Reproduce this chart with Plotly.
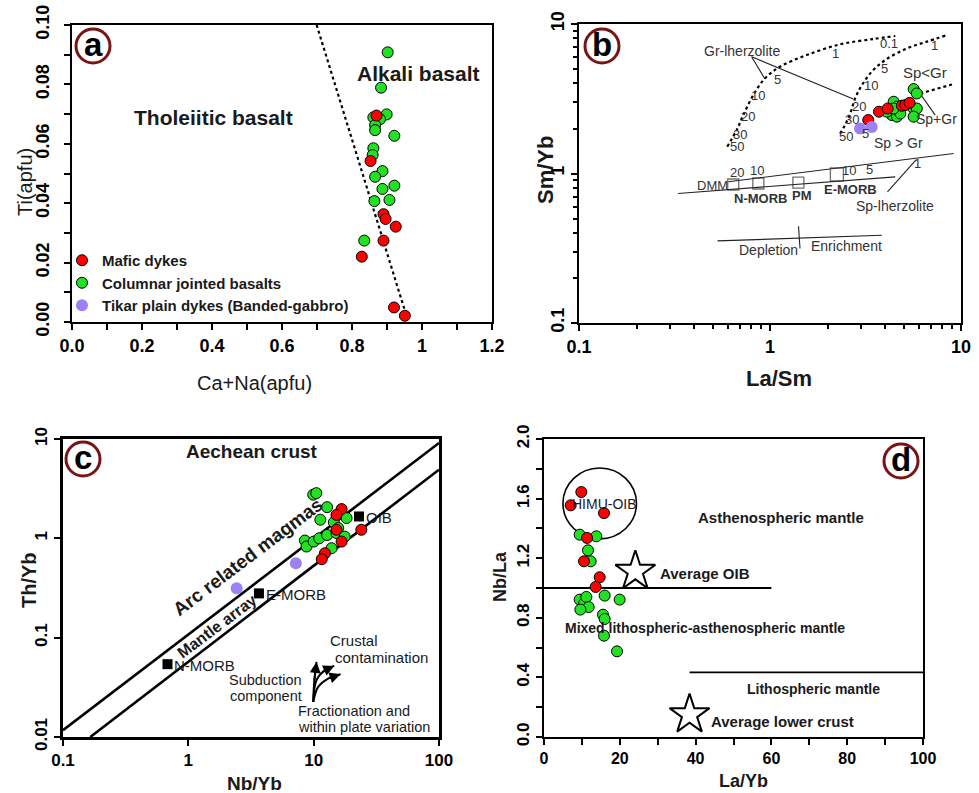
import numpy as np
import plotly.graph_objects as go

W, H = 979, 793
FONT = "Liberation Sans, Arial, sans-serif"
RED = "#ff0000"
GREEN = "#22e022"
PURPLE = "#9d80f2"
TXT = "#1a1a1a"

# ---------------- data: panel a (Ca+Na vs Ti) ----------------
a_mafic_x = [0.870, 0.853, 0.890, 0.896, 0.925, 0.890, 0.828, 0.920, 0.951]
a_mafic_y = [0.0695, 0.0542, 0.0363, 0.0347, 0.0321, 0.0274, 0.0220, 0.0049, 0.0021]
a_col_x = [0.902, 0.883, 0.899, 0.861, 0.880, 0.866, 0.866, 0.921, 0.861,
           0.859, 0.887, 0.866, 0.887, 0.921, 0.864, 0.907, 0.835]
a_col_y = [0.0908, 0.0789, 0.0699, 0.0689, 0.0683, 0.0663, 0.0646, 0.0627, 0.0585,
           0.0562, 0.0508, 0.0489, 0.0448, 0.0459, 0.0407, 0.0411, 0.0274]
a_div_x = [0.699, 0.961]
a_div_y = [0.10, 0.0]
a_xticks = [0.0, 0.1, 0.2, 0.3, 0.4, 0.5, 0.6, 0.7, 0.8, 0.9, 1.0, 1.1, 1.2]
a_xtext = ["0.0", "", "0.2", "", "0.4", "", "0.6", "", "0.8", "", "1", "", "1.2"]
a_yticks = [0.0, 0.01, 0.02, 0.03, 0.04, 0.05, 0.06, 0.07, 0.08, 0.09, 0.10]
a_ytext = ["0.00", "", "0.02", "", "0.04", "", "0.06", "", "0.08", "", "0.10"]

# ---------------- data: panel b (La/Sm vs Sm/Yb) ----------------
b_mafic_x = [3.27, 3.72, 4.13, 4.90, 5.11, 5.38]
b_mafic_y = [2.28, 2.59, 2.72, 2.84, 2.87, 2.97]
b_col_x = [5.65, 5.87, 4.44, 4.62, 4.35, 4.62, 4.81, 5.65, 5.87, 5.65, 4.09, 4.44]
b_col_y = [3.67, 3.43, 3.02, 2.80, 2.46, 2.40, 2.52, 2.72, 2.72, 2.40, 2.59, 2.72]
b_tik_x = [2.96, 3.41]
b_tik_y = [2.00, 2.05]
b_gr_curve_x = [0.597, 0.669, 0.725, 0.818, 0.941, 1.128, 1.557, 2.33, 3.48, 4.53]
b_gr_curve_y = [1.51, 1.95, 2.46, 3.35, 4.33, 5.18, 6.20, 7.31, 7.94, 8.31]
b_mix_curve_x = [2.33, 2.47, 2.63, 2.79, 3.03, 3.41, 4.01, 5.21, 6.63, 8.28]
b_mix_curve_y = [1.85, 2.11, 2.52, 3.18, 3.90, 4.80, 5.74, 6.87, 7.62, 8.36]
b_sp_gr_x = [6.12, 8.97]
b_sp_gr_y = [3.43, 3.94]
b_sp_upper_x = [0.605, 9.15]
b_sp_upper_y = [0.880, 1.361]
b_sp_lower_x = [0.3305, 4.53]
b_sp_lower_y = [0.735, 0.950]
b_ptr_gr_x = [0.941, 0.801, 2.73]
b_ptr_gr_y = [4.29, 6.04, 3.15]
b_ptr_spgr_x = [6.12, 7.33]
b_ptr_spgr_y = [3.41, 2.46]
b_ptr_sp_x = [5.83, 4.12]
b_ptr_sp_y = [1.24, 0.754]
b_dep_x = [0.531, 3.85]
b_dep_y = [0.354, 0.386]
b_dep_tick_x = [1.41, 1.436]
b_dep_tick_y = [0.444, 0.315]
b_src_names = ["DMM", "N-MORB", "PM", "E-MORB"]
b_src_x = [0.642, 0.869, 1.408, 2.24]
b_src_y = [0.844, 0.857, 0.870, 0.985]
b_ticks = [0.1, 1, 10]
b_ticktext = ["0.1", "1", "10"]
b_minor = [0.2, 0.3, 0.4, 0.5, 0.6, 0.7, 0.8, 0.9, 2, 3, 4, 5, 6, 7, 8, 9]
# curve labels (text, x, y)
b_curve_labels = [("50", 0.669, 1.51), ("30", 0.697, 1.81), ("20", 0.764, 2.40),
                  ("10", 0.862, 3.31), ("5", 1.093, 4.28), ("1", 2.19, 6.30),
                  ("0.1", 4.21, 7.42),
                  ("50", 2.50, 1.78), ("30", 2.70, 2.30), ("20", 2.91, 2.80),
                  ("10", 3.37, 3.90), ("5", 3.96, 5.0), ("1", 7.24, 7.23),
                  ("5", 3.18, 1.85),
                  ("20", 0.669, 1.01), ("10", 0.851, 1.04), ("10", 2.60, 1.04),
                  ("5", 3.30, 1.07), ("1", 5.93, 1.17)]

# ---------------- data: panel c (Nb/Yb vs Th/Yb) ----------------
c_mafic_x = [16.7, 15.2, 15.2, 16.7, 12.3, 11.6, 24.0]
c_mafic_y = [1.97, 1.72, 1.22, 0.928, 0.708, 0.616, 1.22]
c_col_x = [9.92, 10.5, 12.8, 11.3, 14.5, 18.3, 15.7, 8.51, 8.77, 10.0, 11.07, 12.8, 15.2, 17.7, 13.9]
c_col_y = [2.75, 2.85, 2.06, 1.54, 1.45, 1.60, 1.27, 0.95, 0.827, 0.928, 1.00, 1.08, 1.13, 1.04, 0.795]
c_tik_x = [2.43, 7.21]
c_tik_y = [0.314, 0.561]
c_upper_x = [0.1, 100]
c_upper_y = [0.0117, 9.12]
c_lower_x = [0.165, 100]
c_lower_y = [0.01, 4.91]
c_ref_names = ["OIB", "E-MORB", "N-MORB"]
c_ref_x = [23.0, 3.66, 0.682]
c_ref_y = [1.66, 0.279, 0.0541]
# curved vector arrows (subduction, crustal contamination, fractionation)
c_arrow_paths = [
    ([9.92, 10.10, 10.54], [0.02255, 0.0359, 0.0571]),
    ([9.92, 10.54, 12.28, 14.6], [0.02255, 0.0373, 0.0471, 0.052]),
    ([9.92, 10.86, 13.05, 16.4], [0.02255, 0.03195, 0.0388, 0.0429]),
]
c_xticks = [0.1, 1, 10, 100]
c_xtext = ["0.1", "1", "10", "100"]
c_yticks = [0.01, 0.1, 1, 10]
c_ytext = ["0.01", "0.1", "1", "10"]

# ---------------- data: panel d (La/Yb vs Nb/La) ----------------
d_mafic_x = [9.85, 7.04, 15.83, 11.35, 10.55, 14.69, 13.63]
d_mafic_y = [1.644, 1.555, 1.503, 1.336, 1.179, 1.072, 1.007]
d_col_x = [9.41, 13.81, 11.61, 12.31, 9.41, 10.55, 11.17, 11.79, 9.59, 16.0, 19.96, 15.57, 16.0, 15.83, 19.26]
d_col_y = [1.358, 1.347, 1.253, 1.179, 0.922, 0.895, 0.94, 0.872, 0.855, 0.949, 0.922, 0.821, 0.792, 0.68, 0.575]
d_line1_x = [0, 60]
d_line1_y = [1.0, 1.0]
d_line2_x = [38.4, 100]
d_line2_y = [0.434, 0.434]
d_star_names = ["Average OIB", "Average lower crust"]
d_star_x = [24.1, 38.4]
d_star_y = [1.112, 0.15]
d_himu_box = [5.0, 24.4, 1.33, 1.805]
d_xticks = list(range(0, 101, 10))
d_xtext = ["0", "", "20", "", "40", "", "60", "", "80", "", "100"]
d_yticks = [0.0, 0.2, 0.4, 0.6, 0.8, 1.0, 1.2, 1.4, 1.6, 1.8, 2.0]
d_ytext = ["0.0", "", "0.4", "", "0.8", "", "1.2", "", "1.6", "", "2.0"]


def PX(x):
    return x / W


def PY(y):
    return 1 - y / H


fig = go.Figure()

mk_red = dict(color=RED, size=11, line=dict(color="black", width=1))
mk_green = dict(color=GREEN, size=11, line=dict(color="black", width=1))
mk_purple = dict(color=PURPLE, size=12, line=dict(width=0))


def pts(x, y, mk, ax, name=None, legend=False, rank=None):
    fig.add_trace(go.Scatter(x=x, y=y, mode="markers", marker=mk, xaxis="x" + ax, yaxis="y" + ax,
                             name=name, showlegend=legend, legendrank=rank or 1000,
                             hoverinfo="skip"))


def line(x, y, ax, width=1, dash="solid", color="black", shape="linear"):
    fig.add_trace(go.Scatter(x=x, y=y, mode="lines", line=dict(color=color, width=width, dash=dash, shape=shape),
                             xaxis="x" + ax, yaxis="y" + ax, showlegend=False, hoverinfo="skip"))


# panel a
line(a_div_x, a_div_y, "", width=2.2, dash="dot")
pts(a_col_x, a_col_y, mk_green, "")
pts(a_mafic_x, a_mafic_y, mk_red, "")

# panel b
line(b_gr_curve_x, b_gr_curve_y, "2", width=2.2, dash="dot", shape="spline")
line(b_mix_curve_x, b_mix_curve_y, "2", width=2.2, dash="dot", shape="spline")
line(b_sp_gr_x, b_sp_gr_y, "2", width=2.2, dash="dot")
line(b_sp_upper_x, b_sp_upper_y, "2", width=1.1, color="#222")
line(b_sp_lower_x, b_sp_lower_y, "2", width=1.1, color="#222")
line(b_ptr_gr_x, b_ptr_gr_y, "2", width=1.1, color="#222")
line(b_ptr_spgr_x, b_ptr_spgr_y, "2", width=1.1, color="#222")
line(b_ptr_sp_x, b_ptr_sp_y, "2", width=1.1, color="#222")
line(b_dep_x, b_dep_y, "2", width=1.1, color="#222")
line(b_dep_tick_x, b_dep_tick_y, "2", width=1.1, color="#222")
fig.add_trace(go.Scatter(x=b_src_x, y=b_src_y, mode="markers",
                         marker=dict(symbol="square-open", size=[11, 11, 11, 13], color="#333",
                                     line=dict(width=1.3, color="#333")),
                         xaxis="x2", yaxis="y2", showlegend=False, hoverinfo="skip"))
pts(b_col_x, b_col_y, mk_green, "2")
pts(b_mafic_x, b_mafic_y, mk_red, "2")
pts(b_tik_x, b_tik_y, mk_purple, "2")

# panel c
line(c_upper_x, c_upper_y, "3", width=2.6)
line(c_lower_x, c_lower_y, "3", width=2.6)
for px_, py_ in c_arrow_paths:
    line(px_, py_, "3", width=2, shape="spline")
fig.add_trace(go.Scatter(x=c_ref_x, y=c_ref_y, mode="markers",
                         marker=dict(symbol="square", size=10, color="black"),
                         xaxis="x3", yaxis="y3", showlegend=False, hoverinfo="skip"))
pts(c_col_x, c_col_y, mk_green, "3", "Columnar jointed basalts", True, 2)
pts(c_mafic_x, c_mafic_y, mk_red, "3", "Mafic dykes", True, 1)
pts(c_tik_x, c_tik_y, mk_purple, "3", "Tikar plain dykes (Banded-gabbro)", True, 3)

# panel d
line(d_line1_x, d_line1_y, "4", width=1.8)
line(d_line2_x, d_line2_y, "4", width=1.8)
fig.add_trace(go.Scatter(x=d_star_x, y=d_star_y, mode="markers",
                         marker=dict(symbol="star-open", size=30, color="black", line=dict(width=2, color="black")),
                         xaxis="x4", yaxis="y4", showlegend=False, hoverinfo="skip"))
pts(d_col_x, d_col_y, mk_green, "4")
pts(d_mafic_x, d_mafic_y, mk_red, "4")

shapes = [dict(type="circle", xref="x4", yref="y4", x0=d_himu_box[0], x1=d_himu_box[1],
               y0=d_himu_box[2], y1=d_himu_box[3], line=dict(color="black", width=1.6), layer="below")]

ann = []


def txt(x, y, s, ax, size=14, bold=False, angle=0, xanchor="center", color=TXT, log=False):
    if log:
        x, y = np.log10(x), np.log10(y)
    ann.append(dict(x=x, y=y, xref="x" + ax, yref="y" + ax, text=("<b>%s</b>" % s) if bold else s,
                    showarrow=False, textangle=angle, xanchor=xanchor, yanchor="middle",
                    font=dict(family=FONT, size=size, color=color)))


def ptxt(px, py, s, size=18, bold=False, angle=0, color=TXT):
    ann.append(dict(x=PX(px), y=PY(py), xref="paper", yref="paper", text=("<b>%s</b>" % s) if bold else s,
                    showarrow=False, textangle=angle, xanchor="center", yanchor="middle",
                    font=dict(family=FONT, size=size, color=color)))


# circled panel letters
for letter, cx, cy in [("a", 93, 46), ("b", 602, 46), ("c", 83, 459), ("d", 901, 461)]:
    shapes.append(dict(type="circle", xref="paper", yref="paper", xsizemode="pixel", ysizemode="pixel",
                       xanchor=PX(cx), yanchor=PY(cy), x0=-17, x1=17, y0=-17, y1=17,
                       line=dict(color="#7a1414", width=3)))
    ptxt(cx, cy - 2, letter, size=33, bold=True, color="black")

# axis titles
ptxt(25, 182, "Ti(apfu)", size=20, angle=-90)
ptxt(255, 383, "Ca+Na(apfu)", size=20)
ptxt(545, 170, "Sm/Yb", size=22, bold=True, angle=-90)
ptxt(779, 378, "La/Sm", size=22, bold=True)
ptxt(29, 580, "Th/Yb", size=20, bold=True, angle=-90)
ptxt(254, 783, "Nb/Yb", size=19, bold=True)
ptxt(500, 576, "Nb/La", size=18, bold=True, angle=-90)
ptxt(743, 781, "La/Yb", size=18, bold=True)

# panel a texts
txt(0.403, 0.0687, "Tholeiitic basalt", "", size=21, bold=True)
txt(0.989, 0.0838, "Alkali basalt", "", size=21, bold=True)

# panel b texts
txt(0.716, 6.63, "Gr-lherzolite", "2", size=14, log=True, color="#333")
for s, x, y in b_curve_labels:
    txt(x, y, s, "2", size=13, log=True, color="#333")
txt(6.50, 4.72, "Sp&lt;Gr", "2", size=15, log=True, color="#333")
txt(7.48, 2.33, "Sp+Gr", "2", size=14, log=True, color="#333")
txt(4.71, 1.59, "Sp &gt; Gr", "2", size=14, log=True, color="#333")
txt(0.500, 0.835, "DMM", "2", size=13, log=True, color="#333")
txt(0.893, 0.680, "N-MORB", "2", size=13, bold=True, log=True, color="#333")
txt(1.466, 0.709, "PM", "2", size=13, bold=True, log=True, color="#333")
txt(2.63, 0.781, "E-MORB", "2", size=13, bold=True, log=True, color="#333")
txt(4.49, 0.604, "Sp-lherzolite", "2", size=14, log=True, color="#333")
txt(0.98, 0.310, "Depletion", "2", size=14, log=True, color="#333")
txt(2.52, 0.326, "Enrichment", "2", size=14, log=True, color="#333")

# panel c texts
txt(3.24, 7.5, "Aechean crust", "3", size=19, bold=True, log=True)
txt(3.01, 0.655, "Arc related magmas", "3", size=19, bold=True, angle=-37, log=True)
txt(1.685, 0.129, "Mantle array", "3", size=16, bold=True, angle=-37, log=True)
for name, x, y in zip(c_ref_names, c_ref_x, c_ref_y):
    txt(x * 1.09, y * 0.97, name, "3", size=15, xanchor="left", log=True)
txt(13.1, 0.0931, "Crustal", "3", size=15, xanchor="left", log=True)
txt(14.3, 0.0632, "contamination", "3", size=15, xanchor="left", log=True)
txt(8.36, 0.0376, "Subduction", "3", size=14.5, xanchor="right", log=True)
txt(8.30, 0.0257, "component", "3", size=14.5, xanchor="right", log=True)
txt(7.21, 0.01827, "Fractionation and", "3", size=14.5, xanchor="left", log=True)
txt(7.21, 0.01262, "within plate variation", "3", size=14.5, xanchor="left", log=True)
for px_, py_ in c_arrow_paths:
    ann.append(dict(x=np.log10(px_[-1]), y=np.log10(py_[-1]), xref="x3", yref="y3",
                    ax=np.log10(px_[-2]), ay=np.log10(py_[-2]), axref="x3", ayref="y3",
                    showarrow=True, arrowhead=2, arrowsize=1.1, arrowwidth=2, arrowcolor="black", text=""))

# panel d texts
txt(16.0, 1.566, "HIMU-OIB", "4", size=14)
txt(62.6, 1.47, "Asthenospheric mantle", "4", size=15, bold=True)
txt(d_star_x[0] + 6.0, 1.10, d_star_names[0], "4", size=15, bold=True, xanchor="left")
txt(42.4, 0.73, "Mixed lithospheric-asthenospheric mantle", "4", size=14, bold=True)
txt(71.0, 0.322, "Lithospheric mantle", "4", size=14, bold=True)
txt(d_star_x[1] + 5.1, 0.105, d_star_names[1], "4", size=15, bold=True, xanchor="left")


def axis(domain, rng, tickvals, ticktext, typ="linear", lw=2, angle=0, size=18, minor=None,
         anchor=None, standoff=0):
    d = dict(domain=domain, range=rng, type=typ, tickmode="array", tickvals=tickvals, ticktext=ticktext,
             showline=True, linecolor="black", linewidth=lw, mirror=True, ticks="outside", ticklen=6,
             tickwidth=2, tickcolor="black", showgrid=False, zeroline=False, tickangle=angle,
             tickfont=dict(family=FONT, size=size, color="black", weight="bold"), anchor=anchor,
             fixedrange=True, automargin=False, ticklabelstandoff=standoff)
    if minor is not None:
        d["minor"] = dict(tickmode="array", tickvals=minor, ticks="outside", ticklen=4, tickwidth=1.5,
                          tickcolor="black", showgrid=False)
    return d


fig.update_layout(
    template="none",
    width=W, height=H, margin=dict(l=0, r=0, t=0, b=0, pad=0, autoexpand=False),
    paper_bgcolor="white", plot_bgcolor="white",
    font=dict(family=FONT, color=TXT),
    xaxis=axis([PX(72), PX(492)], [0, 1.2], a_xticks, a_xtext, anchor="y"),
    yaxis=axis([PY(322), PY(25)], [0, 0.10], a_yticks, a_ytext, angle=-90, anchor="x", standoff=8),
    xaxis2=axis([PX(579), PX(961)], [-1, 1], b_ticks, b_ticktext, typ="log", minor=b_minor, anchor="y2"),
    yaxis2=axis([PY(323), PY(24)], [-1, 1], b_ticks, b_ticktext, typ="log", angle=-90, minor=b_minor, anchor="x2"),
    xaxis3=axis([PX(63), PX(439)], [-1, 2], c_xticks, c_xtext, typ="log", lw=2.5, size=17, anchor="y3"),
    yaxis3=axis([PY(737), PY(439)], [-2, 1], c_yticks, c_ytext, typ="log", lw=2.5, angle=-90, size=17, anchor="x3"),
    xaxis4=axis([PX(544), PX(923)], [0, 100], d_xticks, d_xtext, size=16, anchor="y4"),
    yaxis4=axis([PY(737), PY(439)], [0, 2.0], d_yticks, d_ytext, angle=-90, size=17, anchor="x4"),
    legend=dict(x=PX(62), y=PY(244), xanchor="left", yanchor="top", bgcolor="rgba(0,0,0,0)",
                font=dict(family=FONT, size=15, color=TXT, weight="bold"), itemwidth=30,
                tracegroupgap=0),
    shapes=shapes, annotations=ann,
)

fig.write_html("out.html", config={"displayModeBar": False},
               post_script="document.body.style.margin='0';document.body.style.overflow='hidden';")
